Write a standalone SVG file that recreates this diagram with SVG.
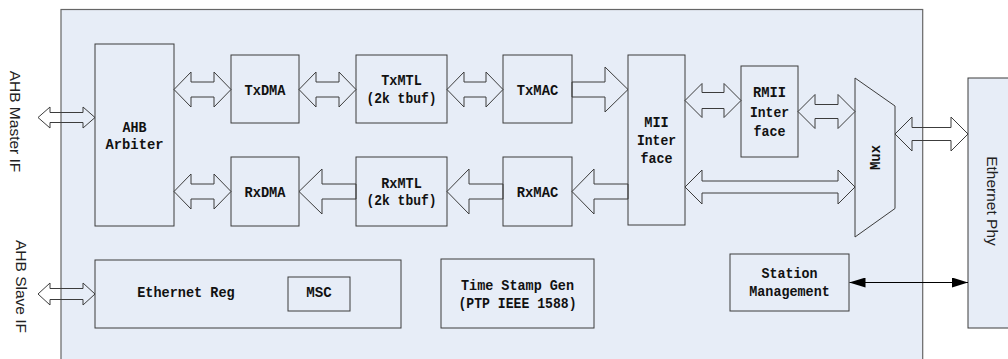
<svg xmlns="http://www.w3.org/2000/svg" width="1008" height="359" viewBox="0 0 1008 359">
<style>
.bg{fill:#e7edf7;stroke:#666;stroke-width:1.2}
.box{fill:#e7edf7;stroke:#3c3c3c;stroke-width:1}
.ba{fill:none;stroke:#3c3c3c;stroke-width:1}
.ln{stroke:#000;stroke-width:1.2;fill:none}
.t{font-family:"Liberation Mono","DejaVu Sans Mono",monospace;font-weight:bold;font-size:15.5px;fill:#111;text-anchor:middle}
.s{font-family:"Liberation Sans",Arial,sans-serif;font-size:15.5px;fill:#222;text-anchor:middle}
</style>
<defs>
<marker id="ah" viewBox="0 0 16 10" refX="16" refY="5" markerWidth="16" markerHeight="10" markerUnits="userSpaceOnUse" orient="auto-start-reverse">
<path d="M0,0 L16,5 L0,10 z" fill="#000"/>
</marker>
</defs>
<rect width="1008" height="359" fill="#fff"/>
<g id="ethernet-mac">
<rect class="bg" x="61" y="9.5" width="861.7" height="360"/>
</g>
<g id="ahb-master-if"><text class="s" transform="translate(10,121.5) rotate(90)">AHB Master IF</text></g>
<g id="ahb-slave-if"><text class="s" transform="translate(15.5,286.5) rotate(90)">AHB Slave IF</text></g>
<g id="ahb-arbiter">
<rect class="box" x="95" y="44" width="79" height="182"/>
<text class="t" x="134.5" y="131.5" textLength="24" lengthAdjust="spacingAndGlyphs">AHB</text>
<text class="t" x="134.5" y="149" textLength="58" lengthAdjust="spacingAndGlyphs">Arbiter</text>
</g>
<g id="txdma">
<rect class="box" x="231" y="55" width="68" height="68"/>
<text class="t" x="265" y="94.5" textLength="41" lengthAdjust="spacingAndGlyphs">TxDMA</text>
</g>
<g id="txmtl">
<rect class="box" x="356" y="55" width="91" height="68"/>
<text class="t" x="401.5" y="85" textLength="40.5" lengthAdjust="spacingAndGlyphs">TxMTL</text>
<text class="t" x="401.5" y="102.5" textLength="70" lengthAdjust="spacingAndGlyphs">(2k tbuf)</text>
</g>
<g id="txmac">
<rect class="box" x="503" y="55" width="69" height="68"/>
<text class="t" x="537.5" y="94.5" textLength="41.5" lengthAdjust="spacingAndGlyphs">TxMAC</text>
</g>
<g id="rxdma">
<rect class="box" x="231" y="157" width="68" height="69"/>
<text class="t" x="265" y="197" textLength="41" lengthAdjust="spacingAndGlyphs">RxDMA</text>
</g>
<g id="rxmtl">
<rect class="box" x="356" y="157" width="91" height="69"/>
<text class="t" x="401.5" y="187.5" textLength="40.5" lengthAdjust="spacingAndGlyphs">RxMTL</text>
<text class="t" x="401.5" y="205" textLength="70" lengthAdjust="spacingAndGlyphs">(2k tbuf)</text>
</g>
<g id="rxmac">
<rect class="box" x="503" y="157" width="69" height="69"/>
<text class="t" x="537.5" y="197" textLength="41.5" lengthAdjust="spacingAndGlyphs">RxMAC</text>
</g>
<g id="mii-interface">
<rect class="box" x="628" y="55" width="57" height="170"/>
<text class="t" x="656.5" y="126.7" textLength="24.5" lengthAdjust="spacingAndGlyphs">MII</text>
<text class="t" x="656.5" y="145" textLength="39" lengthAdjust="spacingAndGlyphs">Inter</text>
<text class="t" x="656.5" y="163.3" textLength="32" lengthAdjust="spacingAndGlyphs">face</text>
</g>
<g id="rmii-interface">
<rect class="box" x="741" y="66" width="57" height="91"/>
<text class="t" x="769.5" y="96.7" textLength="33" lengthAdjust="spacingAndGlyphs">RMII</text>
<text class="t" x="769.5" y="117.3" textLength="39" lengthAdjust="spacingAndGlyphs">Inter</text>
<text class="t" x="769.5" y="136" textLength="32" lengthAdjust="spacingAndGlyphs">face</text>
</g>
<g id="mux">
<polygon class="box" points="855,78 895,106 895,208.5 855,237"/>
<text class="t" transform="translate(879.5,157.5) rotate(-90)" textLength="25" lengthAdjust="spacingAndGlyphs">Mux</text>
</g>
<g id="ethernet-phy">
<rect class="box" x="968" y="78" width="50" height="250"/>
<text class="s" transform="translate(987,201) rotate(90)">Ethernet Phy</text>
</g>
<g id="ethernet-reg">
<rect class="box" x="95" y="260" width="306" height="68"/>
<text class="t" x="186" y="296.7" textLength="97.5" lengthAdjust="spacingAndGlyphs">Ethernet Reg</text>
</g>
<g id="msc">
<rect class="box" x="288" y="277" width="62" height="34"/>
<text class="t" x="319" y="296.7" textLength="25.5" lengthAdjust="spacingAndGlyphs">MSC</text>
</g>
<g id="time-stamp-gen">
<rect class="box" x="441" y="259" width="153" height="69"/>
<text class="t" x="517.5" y="290" textLength="113" lengthAdjust="spacingAndGlyphs">Time Stamp Gen</text>
<text class="t" x="517.5" y="307.5" textLength="118" lengthAdjust="spacingAndGlyphs">(PTP IEEE 1588)</text>
</g>
<g id="station-management">
<rect class="box" x="730" y="254" width="119" height="57"/>
<text class="t" x="789.5" y="278.3" textLength="56" lengthAdjust="spacingAndGlyphs">Station</text>
<text class="t" x="789.5" y="296" textLength="80.5" lengthAdjust="spacingAndGlyphs">Management</text>
</g>
<g id="connectors">
<polygon class="ba" points="38,117.5 50,107 50,112.5 83,112.5 83,107 95,117.5 83,128 83,122.5 50,122.5 50,128"/>
<polygon class="ba" points="38,294 50,283 50,288.5 83,288.5 83,283 95,294 83,305 83,299.5 50,299.5 50,305"/>
<polygon class="ba" points="174,89.5 191,72 191,82 214,82 214,72 231,89.5 214,107 214,97 191,97 191,107"/>
<polygon class="ba" points="299,89.5 316,72 316,82 339,82 339,72 356,89.5 339,107 339,97 316,97 316,107"/>
<polygon class="ba" points="447,89.5 464,72 464,82 486,82 486,72 503,89.5 486,107 486,97 464,97 464,107"/>
<polygon class="ba" points="572,82 605,82 605,67 628,89.5 605,112 605,97 572,97"/>
<polygon class="ba" points="628,184 594,184 594,169 572,191.5 594,214 594,199 628,199"/>
<polygon class="ba" points="503,184 469,184 469,169 447,191.5 469,214 469,199 503,199"/>
<polygon class="ba" points="356,184 322,184 322,169 299,191.5 322,214 322,199 356,199"/>
<polygon class="ba" points="174,191.5 191,174 191,184 214,184 214,174 231,191.5 214,209 214,199 191,199 191,209"/>
<polygon class="ba" points="685,100.5 702,83.5 702,92.5 724,92.5 724,83.5 741,100.5 724,117.5 724,108.5 702,108.5 702,117.5"/>
<polygon class="ba" points="798,111.5 815,94.5 815,104.5 838,104.5 838,94.5 855,111.5 838,128.5 838,118.5 815,118.5 815,128.5"/>
<polygon class="ba" points="685,187 702,170 702,181 838,181 838,170 855,187 838,204 838,193 702,193 702,204"/>
<polygon class="ba" points="895,134 912,117 912,127.5 951,127.5 951,117 968,134 951,151 951,140.5 912,140.5 912,151"/>
<line class="ln" x1="849.5" y1="282.5" x2="968" y2="282.5" marker-start="url(#ah)" marker-end="url(#ah)"/>
</g>
</svg>
